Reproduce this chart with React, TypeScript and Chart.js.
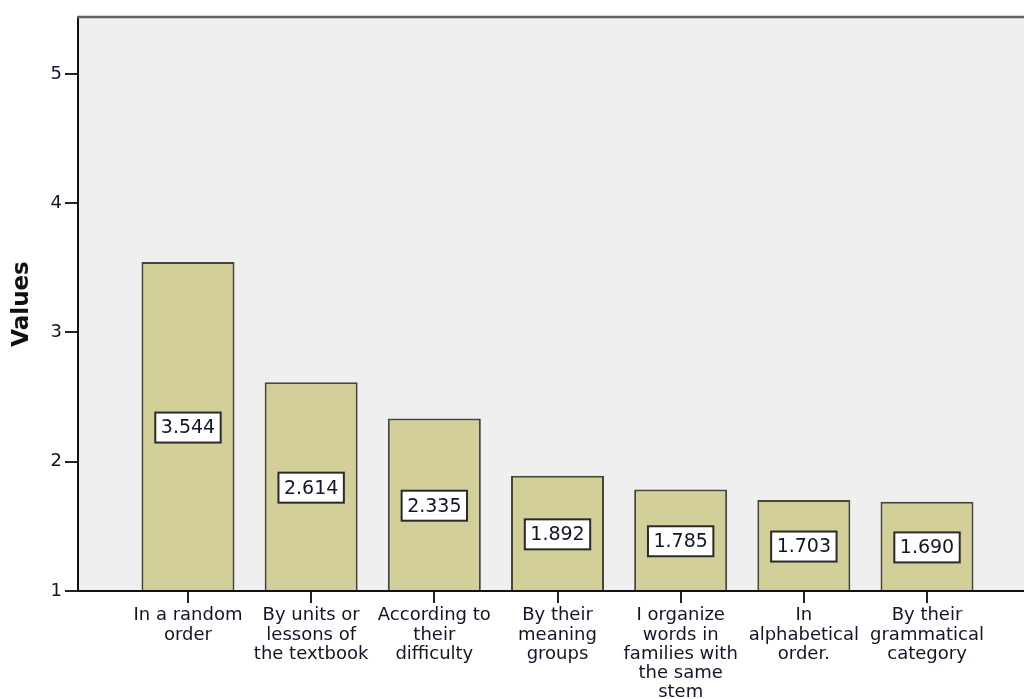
import React, { useEffect, useRef } from 'react';
import { Chart, registerables } from 'chart.js';

Chart.register(...registerables);

const categories: string[][] = [
  ['In a random', 'order'],
  ['By units or', 'lessons of', 'the textbook'],
  ['According to', 'their', 'difficulty'],
  ['By their', 'meaning', 'groups'],
  ['I organize', 'words in', 'families with', 'the same', 'stem'],
  ['In', 'alphabetical', 'order.'],
  ['By their', 'grammatical', 'category'],
];
const values: number[] = [3.544, 2.614, 2.335, 1.892, 1.785, 1.703, 1.69];
const valueLabels: string[] = ['3.544', '2.614', '2.335', '1.892', '1.785', '1.703', '1.690'];
const yTicks: number[] = [1, 2, 3, 4, 5];
const yTitle = 'Values';

const FONT = '"DejaVu Sans", Verdana, sans-serif';

const plotBackground = {
  id: 'plotBackground',
  beforeDraw(chart: any) {
    const { ctx, chartArea } = chart;
    ctx.save();
    ctx.fillStyle = '#efefef';
    ctx.fillRect(chartArea.left, chartArea.top, chartArea.right - chartArea.left, chartArea.bottom - chartArea.top);
    ctx.restore();
  },
  afterDraw(chart: any) {
    const { ctx, chartArea } = chart;
    ctx.save();
    ctx.strokeStyle = '#626262';
    ctx.lineWidth = 2.5;
    ctx.beginPath();
    ctx.moveTo(chartArea.left - 1, chartArea.top);
    ctx.lineTo(chartArea.right, chartArea.top);
    ctx.stroke();
    ctx.restore();
  },
};

const valueBoxes = {
  id: 'valueBoxes',
  afterDatasetsDraw(chart: any) {
    const { ctx } = chart;
    const meta = chart.getDatasetMeta(0);
    ctx.save();
    ctx.font = `19px ${FONT}`;
    meta.data.forEach((bar: any, i: number) => {
      const { x, y, base } = bar.getProps(['x', 'y', 'base'], true);
      const cy = (y + base) / 2 + 1.5;
      const text = valueLabels[i];
      const w = ctx.measureText(text).width + 11;
      const h = 30;
      ctx.fillStyle = '#ffffff';
      ctx.fillRect(x - w / 2, cy - h / 2, w, h);
      ctx.strokeStyle = '#2a2a2a';
      ctx.lineWidth = 2;
      ctx.strokeRect(x - w / 2, cy - h / 2, w, h);
      ctx.fillStyle = '#141428';
      ctx.textAlign = 'center';
      ctx.textBaseline = 'middle';
      ctx.fillText(text, x, cy + 1);
    });
    ctx.restore();
  },
};

export default function App() {
  const ref = useRef<HTMLCanvasElement | null>(null);

  useEffect(() => {
    if (!ref.current) return;
    const chart = new Chart(ref.current, {
      type: 'bar',
      data: {
        datasets: [
          {
            data: values.map((v, i) => ({ x: i, y: v })),
            backgroundColor: '#d3cf99',
            borderColor: '#45453a',
            borderWidth: 2,
            base: 1,
            barPercentage: 0.755,
            categoryPercentage: 1,
          } as any,
        ],
      },
      options: {
        responsive: false,
        animation: false,
        devicePixelRatio: 1,
        layout: { padding: { top: 17, right: 3, left: 0, bottom: 0 } },
        plugins: {
          legend: { display: false },
          tooltip: { enabled: false },
        },
        scales: {
          x: {
            type: 'linear',
            min: -0.893,
            max: 6.893,
            offset: false,
            afterBuildTicks: (s: any) => {
              s.ticks = categories.map((_, i) => ({ value: i }));
            },
            afterFit: (s: any) => {
              s.height = 108;
            },
            grid: {
              offset: false,
              drawOnChartArea: false,
              drawTicks: true,
              tickLength: 12,
              tickColor: '#222',
              lineWidth: 2,
            },
            border: { color: '#111', width: 2 },
            ticks: {
              autoSkip: false,
              maxRotation: 0,
              minRotation: 0,
              padding: 3,
              color: '#141428',
              font: { family: FONT, size: 18, lineHeight: 1.07 },
              callback: (v: any) => categories[Math.round(Number(v))] ?? '',
            },
          },
          y: {
            type: 'linear',
            min: 1,
            max: 5.44,
            afterBuildTicks: (s: any) => {
              s.ticks = yTicks.map((v) => ({ value: v }));
            },
            afterFit: (s: any) => {
              s.width = 78;
            },
            grid: {
              drawOnChartArea: false,
              drawTicks: true,
              tickLength: 13,
              tickColor: '#222',
              lineWidth: 2,
            },
            border: { color: '#111', width: 2 },
            ticks: {
              padding: 3,
              color: '#141428',
              font: { family: FONT, size: 18 },
              callback: (v: any) => String(v),
            },
            title: {
              display: true,
              text: yTitle,
              color: '#111',
              font: { family: FONT, size: 23, weight: 'bold' },
              padding: { top: 8, bottom: 0 },
            },
          },
        },
      },
      plugins: [plotBackground, valueBoxes],
    });
    return () => chart.destroy();
  }, []);

  return (
    <div style={{ position: 'fixed', left: 0, top: 0, width: 1040, height: 699, overflow: 'hidden', background: '#fff' }}>
      <canvas ref={ref} width={1040} height={699} style={{ display: 'block' }} />
    </div>
  );
}
